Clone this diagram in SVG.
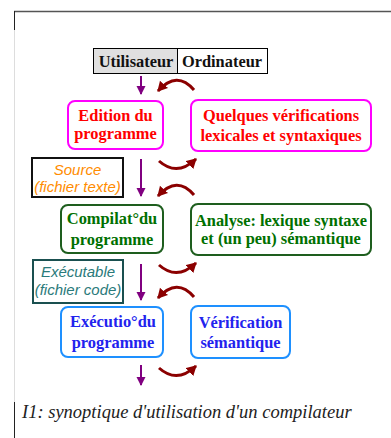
<svg xmlns="http://www.w3.org/2000/svg" width="391" height="438" viewBox="0 0 391 438">
<defs>
<marker id="pa" markerUnits="userSpaceOnUse" markerWidth="10" markerHeight="10" refX="8" refY="5" orient="auto"><path d="M0,0.5 L9,5 L0,9.5 Z" fill="#800080"/></marker>
<marker id="ra" markerUnits="userSpaceOnUse" markerWidth="12" markerHeight="12" refX="9" refY="6" orient="auto"><path d="M0,0.5 L10,6 L0,11.5 Z" fill="#8b0000"/></marker>
</defs>
<style>
.b{font-family:"Liberation Serif",serif;font-weight:bold;font-size:16.4px;text-anchor:middle}
.s{font-family:"Liberation Sans",sans-serif;font-style:italic;font-size:15px;text-anchor:middle}
.v{stroke:#800080;stroke-width:2;fill:none;marker-end:url(#pa)}
.c{stroke:#8b0000;stroke-width:3;fill:none;marker-end:url(#ra)}
.n{fill:#fff;stroke-width:2}
</style>
<rect width="391" height="438" fill="#fff"/>
<g id="frame">
<line x1="14" y1="11.5" x2="391" y2="11.5" stroke="#555" stroke-width="1.5"/>
<line x1="14.5" y1="11" x2="14.5" y2="30" stroke="#222" stroke-width="1"/>
<line x1="14.5" y1="30" x2="14.5" y2="402" stroke="#ddd" stroke-width="1"/>
<line x1="14.5" y1="402" x2="14.5" y2="438" stroke="#222" stroke-width="1"/>
</g>
<g id="header">
<rect x="93.5" y="48.5" width="84" height="25" fill="#e0e0e0" stroke="#000"/>
<rect x="177.5" y="48.5" width="90" height="25" fill="#fff" stroke="#000"/>
<text class="b" x="136" y="67" fill="#111">Utilisateur</text>
<text class="b" x="222" y="67" fill="#111">Ordinateur</text>
</g>
<g id="connectors">
<line class="v" x1="141" y1="76" x2="141" y2="94"/>
<line class="v" x1="141" y1="159" x2="141" y2="196"/>
<line class="v" x1="141" y1="264" x2="141" y2="300"/>
<line class="v" x1="141" y1="365" x2="141" y2="385"/>
<path class="c" d="M194,90 Q177,70 158,91"/>
<path class="c" d="M159,161 Q177,177 196,159"/>
<path class="c" d="M194,195 Q177,175 158,196"/>
<path class="c" d="M159,265 Q177,281 196,263"/>
<path class="c" d="M194,297 Q177,277 158,298"/>
<path class="c" d="M159,368 Q177,384 196,366"/>
</g>
<g id="edition">
<rect class="n" x="68" y="101" width="95" height="48" rx="7" stroke="#ff00ff"/>
<text class="b" x="115.5" y="121" fill="#ff0000">Edition du</text>
<text class="b" x="115.5" y="139" fill="#ff0000">programme</text>
</g>
<g id="quelques">
<rect class="n" x="191" y="100" width="180" height="51" rx="7" stroke="#ff00ff"/>
<text class="b" x="281" y="121" fill="#ff0000">Quelques vérifications</text>
<text class="b" x="281" y="141" fill="#ff0000">lexicales et syntaxiques</text>
</g>
<g id="source">
<rect class="n" x="32" y="158" width="91" height="39" stroke="#111"/>
<text class="s" x="77.5" y="175" fill="#ff8c00">Source</text>
<text class="s" x="77.5" y="192" fill="#ff8c00">(fichier texte)</text>
</g>
<g id="compilat">
<rect class="n" x="61" y="205" width="102" height="48" rx="7" stroke="#1e5e1e"/>
<text class="b" x="112" y="224" fill="#007000">Compilat°du</text>
<text class="b" x="112" y="245" fill="#007000">programme</text>
</g>
<g id="analyse">
<rect class="n" x="191" y="204" width="180" height="51" rx="7" stroke="#1e5e1e"/>
<text class="b" x="281" y="226" fill="#007000">Analyse: lexique syntaxe</text>
<text class="b" x="281" y="244" fill="#007000">et (un peu) sémantique</text>
</g>
<g id="executable">
<rect class="n" x="33" y="260" width="90" height="43" stroke="#1a5050"/>
<text class="s" x="78" y="277" fill="#2a7a7a">Exécutable</text>
<text class="s" x="78" y="295" fill="#2a7a7a">(fichier code)</text>
</g>
<g id="execution">
<rect class="n" x="61" y="307" width="102" height="50" rx="7" stroke="#1e90ff"/>
<text class="b" x="113" y="327" fill="#2222ee">Exécutio°du</text>
<text class="b" x="113" y="348" fill="#2222ee">programme</text>
</g>
<g id="verification">
<rect class="n" x="191" y="306" width="99" height="52" rx="7" stroke="#1e90ff"/>
<text class="b" x="240.5" y="328" fill="#2222ee">Vérification</text>
<text class="b" x="240.5" y="348" fill="#2222ee">sémantique</text>
</g>
<text x="22" y="418" font-family="Liberation Serif,serif" font-style="italic" font-size="18.5px" fill="#222">I1: synoptique d'utilisation d'un compilateur</text>
</svg>
